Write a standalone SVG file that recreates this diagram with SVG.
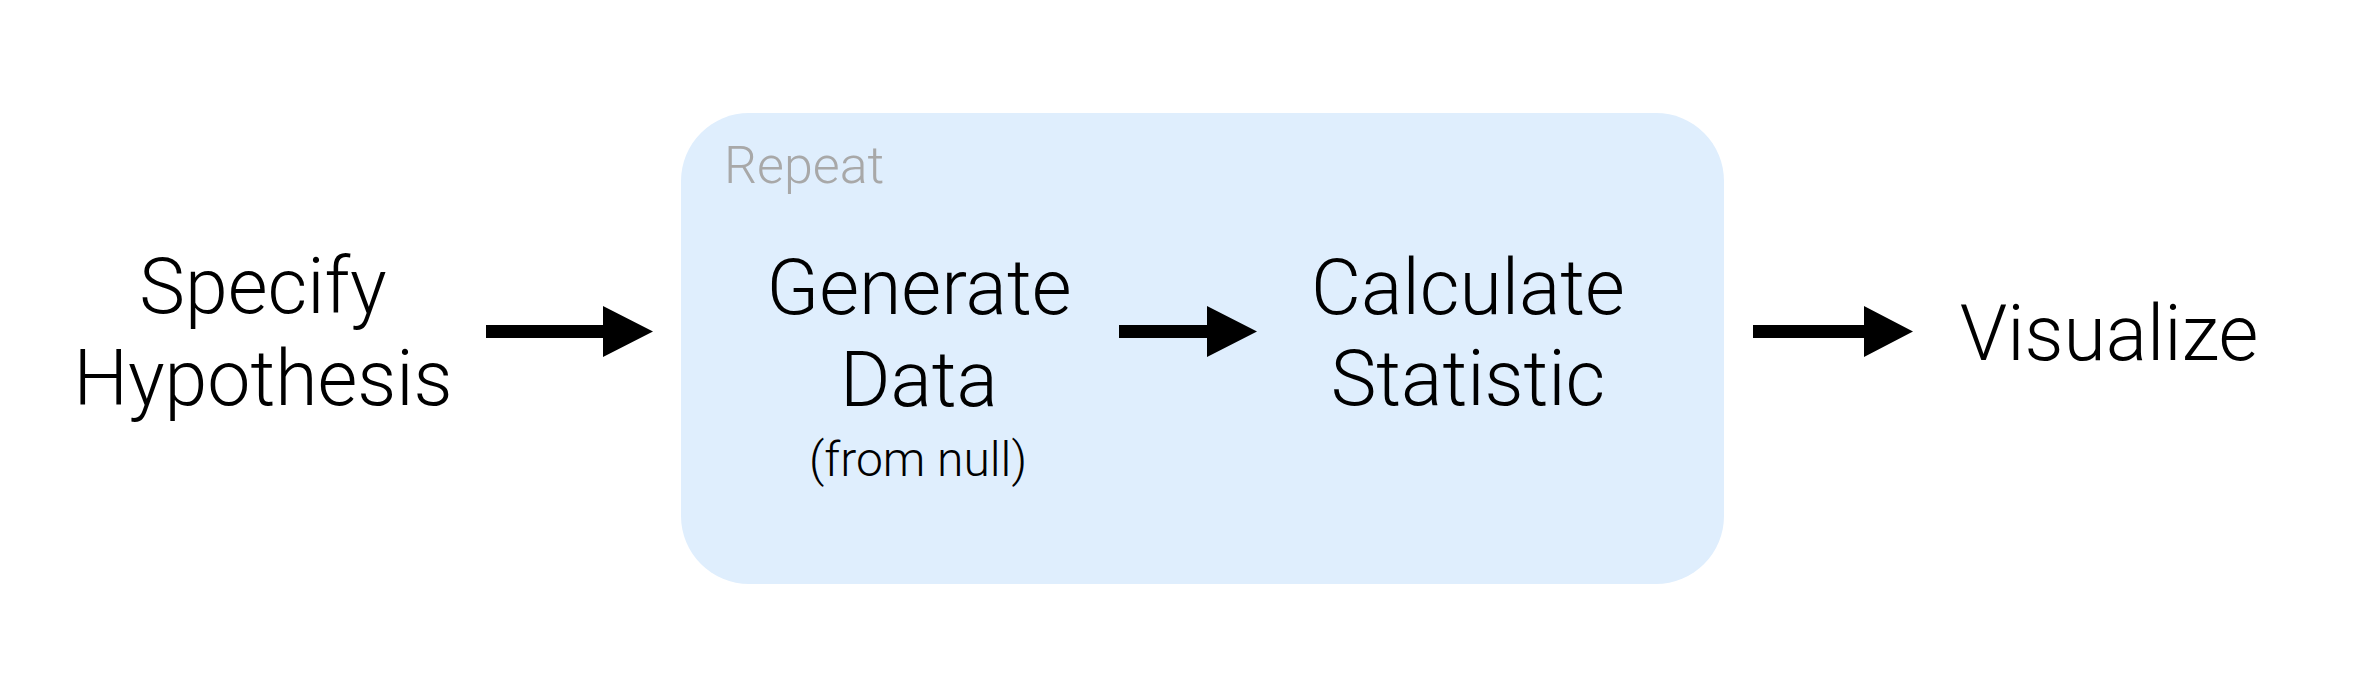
<svg xmlns="http://www.w3.org/2000/svg" width="2362" height="696" viewBox="0 0 2362 696">
<style>
.t{font-family:Roboto,"Liberation Sans",sans-serif;font-weight:300;fill:#000;text-anchor:middle}
.big{font-size:77px}
.sub{font-size:48px}
.rep{font-family:Roboto,"Liberation Sans",sans-serif;font-weight:300;font-size:52px;fill:#A8A8A8}
.arr{fill:#000}
</style>
<rect width="2362" height="696" fill="#fff"/>
<g id="repeat">
<rect x="681" y="113" width="1043" height="471" rx="68" ry="68" fill="#DFEEFD"/>
<text class="rep" x="724" y="183">Repeat</text>
</g>
<g id="specify">
<text class="t big" x="263" y="313">Specify</text>
<text class="t big" x="263" y="405">Hypothesis</text>
</g>
<g id="generate">
<text class="t big" x="919" y="314">Generate</text>
<text class="t big" x="919" y="406">Data</text>
<text class="t sub" x="918" y="476">(from null)</text>
</g>
<g id="calculate">
<text class="t big" x="1468" y="314">Calculate</text>
<text class="t big" x="1468" y="405">Statistic</text>
</g>
<g id="visualize">
<text class="t big" x="2109" y="360">Visualize</text>
</g>
<g id="connectors">
<polygon class="arr" points="486,325 603,325 603,306 653,331.5 603,357 603,338 486,338"/>
<polygon class="arr" points="1119,325 1207,325 1207,306 1257,331.5 1207,357 1207,338 1119,338"/>
<polygon class="arr" points="1753,325 1864,325 1864,306 1913,331.5 1864,357 1864,338 1753,338"/>
</g>
</svg>
